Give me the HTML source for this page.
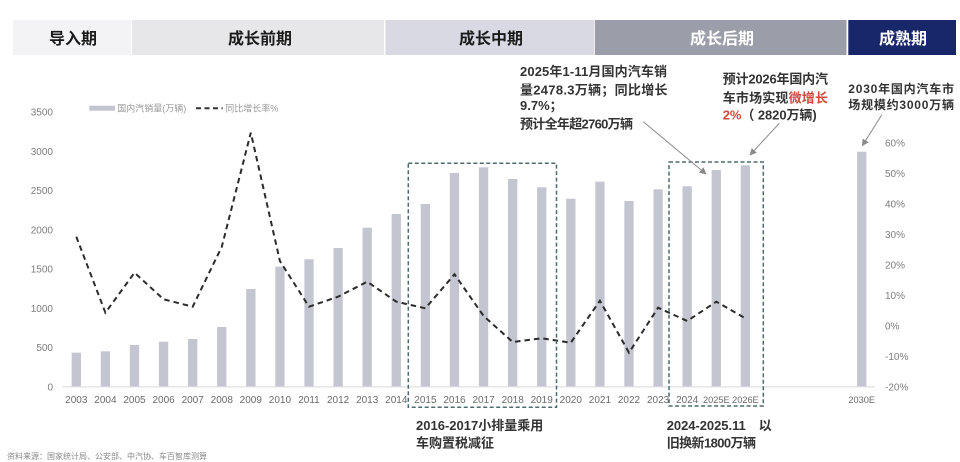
<!DOCTYPE html>
<html><head><meta charset="utf-8"><style>
html,body{margin:0;padding:0;background:#fff;}
svg{display:block;}
text{font-family:"Liberation Sans","Noto Sans CJK SC",sans-serif;}
</style></head><body>
<svg width="960" height="462" viewBox="0 0 960 462" xmlns="http://www.w3.org/2000/svg">
<defs>
<marker id="ah" viewBox="0 0 10 10" refX="9" refY="5" markerWidth="7" markerHeight="7" orient="auto-start-reverse" markerUnits="userSpaceOnUse">
<path d="M0,0 L10,5 L0,10 z" fill="#8a8a8a"/>
</marker>
</defs>
<!-- header -->
<rect x="13" y="20" width="118" height="35" fill="#f3f3f5"/>
<rect x="132" y="20" width="252" height="35" fill="#e7e7e9"/>
<rect x="385.5" y="20" width="209" height="35" fill="#d8d9e2"/>
<rect x="595" y="20" width="251.5" height="35" fill="#9b9ea9"/>
<rect x="848.3" y="20" width="107.7" height="35" fill="#18276a"/>
<g font-size="16" font-weight="bold" text-anchor="middle">
<text x="73" y="44" fill="#1a1a1a">导入期</text>
<text x="260" y="44" fill="#1a1a1a">成长前期</text>
<text x="491" y="44" fill="#1a1a1a">成长中期</text>
<text x="722" y="44" fill="#ffffff">成长后期</text>
<text x="903" y="44" fill="#ffffff">成熟期</text>
</g>
<!-- legend -->
<rect x="89.3" y="105.7" width="25.7" height="5" fill="#c3c6d0"/>
<text x="117.3" y="111.5" font-size="9" fill="#999">国内汽销量(万辆)</text>
<line x1="196" y1="108.3" x2="222.7" y2="108.3" stroke="#333" stroke-width="2" stroke-dasharray="5,3.5"/>
<text x="225.3" y="111.5" font-size="9" fill="#999">同比增长率%</text>
<!-- left axis labels -->
<g font-size="10" fill="#7d7d7d" text-anchor="end">
<text x="53" y="390.3">0</text>
<text x="53" y="351.1">500</text>
<text x="53" y="311.8">1000</text>
<text x="53" y="272.6">1500</text>
<text x="53" y="233.3">2000</text>
<text x="53" y="194.1">2500</text>
<text x="53" y="154.8">3000</text>
<text x="53" y="115.6">3500</text>
</g>
<!-- right axis labels -->
<g font-size="10" fill="#7d7d7d">
<text x="885" y="146.3">60%</text>
<text x="885" y="176.8">50%</text>
<text x="885" y="207.3">40%</text>
<text x="885" y="237.8">30%</text>
<text x="885" y="268.3">20%</text>
<text x="885" y="298.8">10%</text>
<text x="885" y="329.3">0%</text>
<text x="885" y="359.8">-10%</text>
<text x="885" y="390.3">-20%</text>
</g>
<!-- bars -->
<g fill="#c3c6d0">
<rect x="71.65" y="352.7" width="9.3" height="33.8"/>
<rect x="100.74" y="351.3" width="9.3" height="35.2"/>
<rect x="129.83" y="345" width="9.3" height="41.5"/>
<rect x="158.92" y="341.7" width="9.3" height="44.8"/>
<rect x="188.01" y="339" width="9.3" height="47.5"/>
<rect x="217.1" y="327" width="9.3" height="59.5"/>
<rect x="246.19" y="289" width="9.3" height="97.5"/>
<rect x="275.28" y="266.7" width="9.3" height="119.8"/>
<rect x="304.37" y="259.3" width="9.3" height="127.2"/>
<rect x="333.46" y="248" width="9.3" height="138.5"/>
<rect x="362.55" y="227.7" width="9.3" height="158.8"/>
<rect x="391.64" y="214" width="9.3" height="172.5"/>
<rect x="420.73" y="204" width="9.3" height="182.5"/>
<rect x="449.82" y="173" width="9.3" height="213.5"/>
<rect x="478.91" y="167.3" width="9.3" height="219.2"/>
<rect x="508" y="179" width="9.3" height="207.5"/>
<rect x="537.09" y="187.3" width="9.3" height="199.2"/>
<rect x="566.18" y="198.7" width="9.3" height="187.8"/>
<rect x="595.27" y="181.7" width="9.3" height="204.8"/>
<rect x="624.36" y="201" width="9.3" height="185.5"/>
<rect x="653.45" y="189.3" width="9.3" height="197.2"/>
<rect x="682.54" y="186.3" width="9.3" height="200.2"/>
<rect x="711.63" y="170" width="9.3" height="216.5"/>
<rect x="740.72" y="165.3" width="9.3" height="221.2"/>
<rect x="857.08" y="151.7" width="9.3" height="234.8"/>
</g>
<!-- axis line -->
<line x1="62" y1="386.8" x2="875" y2="386.8" stroke="#dcdde2" stroke-width="1.2"/>
<!-- growth line -->
<polyline fill="none" stroke="#2b2b2b" stroke-width="2" stroke-dasharray="5.5,4" points="76.3,236.7 105.4,312.7 134.5,272.7 163.6,299.3 192.7,306.7 221.8,246.7 250.8,132.7 279.9,261 309,306.7 338.1,296.7 367.2,281.7 396.3,301.7 425.4,308.3 454.5,274.3 483.6,316 512.7,342 541.7,338.3 570.8,342.7 599.9,300.7 629,352.7 658.1,307.7 687.2,321 716.3,301.7 745.4,318.3"/>
<!-- x labels -->
<g font-size="10" fill="#6a6a6a" text-anchor="middle">
<text x="76.3" y="403">2003</text>
<text x="105.4" y="403">2004</text>
<text x="134.5" y="403">2005</text>
<text x="163.6" y="403">2006</text>
<text x="192.7" y="403">2007</text>
<text x="221.8" y="403">2008</text>
<text x="250.8" y="403">2009</text>
<text x="279.9" y="403">2010</text>
<text x="309" y="403">2011</text>
<text x="338.1" y="403">2012</text>
<text x="367.2" y="403">2013</text>
<text x="396.3" y="403">2014</text>
<text x="425.4" y="403">2015</text>
<text x="454.5" y="403">2016</text>
<text x="483.6" y="403">2017</text>
<text x="512.7" y="403">2018</text>
<text x="541.7" y="403">2019</text>
<text x="570.8" y="403">2020</text>
<text x="599.9" y="403">2021</text>
<text x="629" y="403">2022</text>
<text x="658.1" y="403">2023</text>
<text x="687.2" y="403">2024</text>
<text x="716.3" y="403" font-size="9.2">2025E</text>
<text x="745.4" y="403" font-size="9.2">2026E</text>
<text x="861.7" y="403" font-size="9.2">2030E</text>
</g>
<!-- dashed boxes -->
<rect x="408.3" y="163.3" width="148.2" height="244" fill="none" stroke="#4d6b6e" stroke-width="1.5" stroke-dasharray="4,2.5"/>
<rect x="669" y="162" width="94.3" height="244" fill="none" stroke="#4d6b6e" stroke-width="1.5" stroke-dasharray="4,2.5"/>
<!-- arrows -->
<g stroke="#8a8a8a" stroke-width="1" fill="none">
<line x1="643.3" y1="121.7" x2="706" y2="174" marker-end="url(#ah)"/>
<line x1="779.3" y1="123.3" x2="750" y2="155" marker-end="url(#ah)"/>
<line x1="881.7" y1="115" x2="862.3" y2="145.7" marker-end="url(#ah)"/>
</g>
<!-- annotations -->
<g font-size="13" font-weight="bold" fill="#333">
<text x="520" y="76" textLength="147" lengthAdjust="spacing">2025年1-11月国内汽车销</text>
<text x="520" y="94.3" textLength="147.5" lengthAdjust="spacing">量2478.3万辆；同比增长</text>
<text x="520" y="110">9.7%；</text>
<text x="520" y="128.3" textLength="113" lengthAdjust="spacing">预计全年超2760万辆</text>
<text x="722.7" y="83.3" textLength="105.3" lengthAdjust="spacing">预计2026年国内汽</text>
<text x="722.7" y="102.3" textLength="105.3" lengthAdjust="spacing">车市场实现<tspan fill="#cf4a3c">微增长</tspan></text>
<text x="722.7" y="119.3" textLength="94" lengthAdjust="spacing"><tspan fill="#cf4a3c">2%</tspan>（ 2820万辆)</text>
<text x="416" y="430" textLength="127.3" lengthAdjust="spacing">2016-2017小排量乘用</text>
<text x="416" y="447.3" textLength="78" lengthAdjust="spacing">车购置税减征</text>
<text x="666.7" y="430" textLength="105" lengthAdjust="spacing">2024-2025.11　以</text>
<text x="666.7" y="447.3" textLength="89.3" lengthAdjust="spacing">旧换新1800万辆</text>
</g>
<g font-size="12" font-weight="bold" fill="#333">
<text x="848.3" y="92.8" textLength="105.7" lengthAdjust="spacing">2030年国内汽车市</text>
<text x="848.3" y="108.8" textLength="105.7" lengthAdjust="spacing">场规模约3000万辆</text>
</g>
<!-- source -->
<text x="7" y="459" font-size="8" fill="#888" textLength="200" lengthAdjust="spacing">资料来源：国家统计局、公安部、中汽协、车百智库测算</text>
</svg>
</body></html>
